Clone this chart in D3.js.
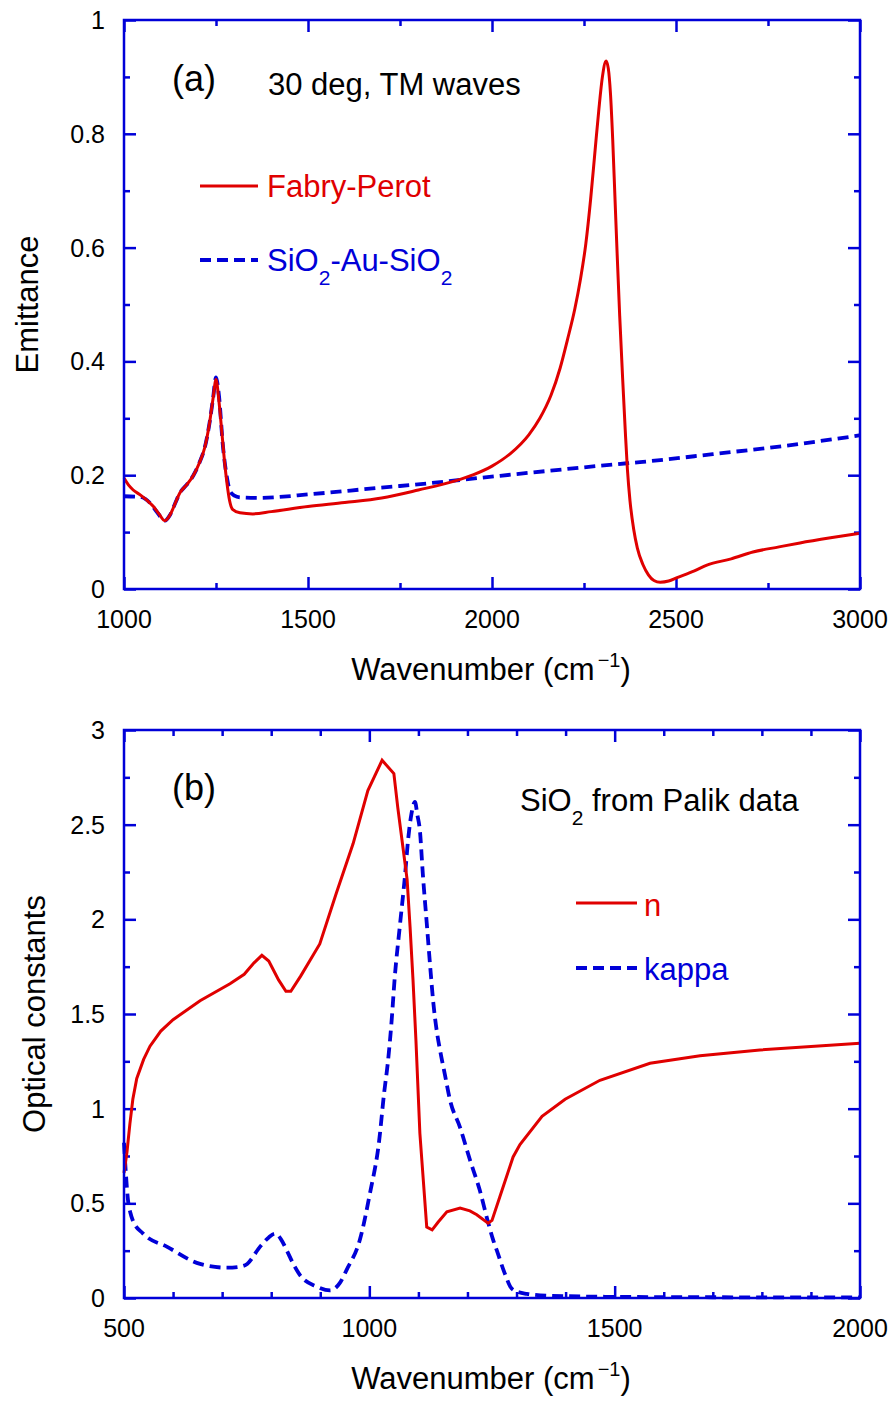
<!DOCTYPE html>
<html>
<head>
<meta charset="utf-8">
<script src="https://cdn.jsdelivr.net/npm/d3@7"></script>
<style>
    body { margin: 0; background: #fff; }
    text { font-family: "Liberation Sans", Arial, sans-serif; }
</style>
</head>
<body>
<div id="chart"></div>
<script>
// panel (a): emittance, 30 deg TM waves
const fabryPerot = [
    [1000, 0.195], [1012, 0.183], [1025, 0.174], [1045, 0.165], [1062, 0.156], [1080, 0.145],
    [1095, 0.132], [1111, 0.12], [1125, 0.13], [1140, 0.152], [1152, 0.169], [1170, 0.183],
    [1188, 0.199], [1205, 0.222], [1220, 0.25], [1232, 0.29], [1242, 0.335], [1250, 0.368],
    [1258, 0.33], [1266, 0.275], [1273, 0.225], [1280, 0.185], [1287, 0.155], [1295, 0.14],
    [1315, 0.134], [1350, 0.132], [1400, 0.136], [1500, 0.145], [1600, 0.152], [1700, 0.16],
    [1800, 0.174], [1900, 0.19], [1950, 0.201], [2000, 0.216], [2050, 0.238], [2100, 0.271],
    [2130, 0.3], [2160, 0.34], [2185, 0.388], [2205, 0.438], [2225, 0.492], [2240, 0.543],
    [2255, 0.607], [2268, 0.685], [2280, 0.77], [2290, 0.84], [2300, 0.9], [2310, 0.928],
    [2316, 0.915], [2322, 0.87], [2328, 0.79], [2334, 0.69], [2340, 0.59], [2347, 0.48],
    [2355, 0.37], [2362, 0.28], [2368, 0.21], [2375, 0.155], [2385, 0.105], [2395, 0.072],
    [2410, 0.043], [2425, 0.025], [2440, 0.015], [2457, 0.012], [2480, 0.014], [2503, 0.02],
    [2550, 0.032], [2584, 0.042], [2650, 0.053], [2709, 0.065], [2780, 0.074], [2837, 0.081],
    [2920, 0.09], [3000, 0.098]
];
const sandwich = [
    [1000, 0.163], [1043, 0.162], [1071, 0.151], [1090, 0.135], [1111, 0.12], [1125, 0.13],
    [1140, 0.152], [1152, 0.169], [1170, 0.183], [1188, 0.199], [1205, 0.222], [1220, 0.25],
    [1232, 0.29], [1242, 0.335], [1250, 0.372], [1258, 0.34], [1269, 0.25], [1280, 0.195],
    [1288, 0.172], [1300, 0.164], [1315, 0.161], [1361, 0.16], [1514, 0.167], [1696, 0.178],
    [1750, 0.181], [2022, 0.199], [2367, 0.221], [2402, 0.223], [2600, 0.237], [2800, 0.252],
    [3000, 0.27]
];
const xTicksA = [1000, 1500, 2000, 2500, 3000];
const xMinorA = [1250, 1750, 2250, 2750];
const yTicksA = [0, 0.2, 0.4, 0.6, 0.8, 1];
const yLabelsA = ['0', '0.2', '0.4', '0.6', '0.8', '1'];
const yMinorA = [0.1, 0.3, 0.5, 0.7, 0.9];

// panel (b): SiO2 optical constants (Palik)
const nSiO2 = [
    [500, 0.66], [506, 0.77], [512, 0.92], [518, 1.05], [526, 1.16], [540, 1.26], [553, 1.33],
    [575, 1.41], [600, 1.47], [655, 1.57], [716, 1.66], [745, 1.71], [765, 1.77], [781, 1.81],
    [795, 1.78], [815, 1.68], [830, 1.62], [840, 1.62], [860, 1.7], [899, 1.87], [933, 2.14],
    [967, 2.4], [997, 2.68], [1026, 2.84], [1050, 2.77], [1058, 2.59], [1069, 2.37], [1077, 2.21],
    [1083, 1.96], [1089, 1.68], [1095, 1.36], [1103, 0.87], [1117, 0.375], [1128, 0.36],
    [1140, 0.4], [1158, 0.455], [1185, 0.475], [1205, 0.46], [1219, 0.44], [1242, 0.395],
    [1250, 0.41], [1266, 0.535], [1293, 0.745], [1307, 0.81], [1352, 0.96], [1399, 1.05],
    [1470, 1.15], [1572, 1.24], [1674, 1.28], [1796, 1.31], [2000, 1.345]
];
const kSiO2 = [
    [500, 0.82], [504, 0.65], [508, 0.52], [513, 0.45], [518, 0.41], [539, 0.34], [588, 0.27],
    [655, 0.18], [710, 0.16], [735, 0.165], [751, 0.18], [777, 0.27], [795, 0.32], [808, 0.34],
    [820, 0.31], [832, 0.25], [845, 0.18], [859, 0.12], [893, 0.06], [920, 0.04], [940, 0.08],
    [954, 0.15], [981, 0.31], [1001, 0.55], [1020, 0.83], [1030, 1.08], [1038, 1.25],
    [1045, 1.45], [1052, 1.7], [1062, 1.96], [1073, 2.24], [1079, 2.42], [1086, 2.56],
    [1093, 2.62], [1098, 2.55], [1103, 2.47], [1109, 2.24], [1117, 1.98], [1125, 1.72],
    [1130, 1.57], [1138, 1.4], [1144, 1.31], [1154, 1.18], [1164, 1.05], [1185, 0.9],
    [1205, 0.73], [1225, 0.57], [1242, 0.4], [1252, 0.31], [1260, 0.25], [1276, 0.13],
    [1290, 0.05], [1305, 0.03], [1321, 0.022], [1368, 0.012], [1500, 0.006], [1700, 0.004],
    [2000, 0.003]
];
const xTicksB = [500, 1000, 1500, 2000];
const xMinorB = [600, 700, 800, 900, 1100, 1200, 1300, 1400, 1600, 1700, 1800, 1900];
const yTicksB = [0, 0.5, 1, 1.5, 2, 2.5, 3];
const yLabelsB = ['0', '0.5', '1', '1.5', '2', '2.5', '3'];
const yMinorB = [0.25, 0.75, 1.25, 1.75, 2.25, 2.75];

const red = '#e00000';
const blue = '#0000d8';
const plotWidth = 736;
const dash = '11,6';

const svg = d3
    .select('#chart')
    .append('svg')
    .attr('width', 896)
    .attr('height', 1403);

function panel(opts) {
    const g = svg.append('g').attr('transform', 'translate(124,' + opts.top + ')');
    const x = d3.scaleLinear().domain(opts.xDomain).range([0, plotWidth]);
    const y = d3.scaleLinear().domain(opts.yDomain).range([opts.height, 0]);

    function ticks(axis, values, size) {
        return axis.tickValues(values).tickSize(-size).tickPadding(0).tickFormat('');
    }
    const axes = [
        [d3.axisBottom(x), opts.xTicks, 12, 'translate(0,' + opts.height + ')'],
        [d3.axisBottom(x), opts.xMinor, 6, 'translate(0,' + opts.height + ')'],
        [d3.axisTop(x), opts.xTicks, 12, null],
        [d3.axisTop(x), opts.xMinor, 6, null],
        [d3.axisLeft(y), opts.yTicks, 12, null],
        [d3.axisLeft(y), opts.yMinor, 6, null],
        [d3.axisRight(y), opts.yTicks, 12, 'translate(' + plotWidth + ',0)'],
        [d3.axisRight(y), opts.yMinor, 6, 'translate(' + plotWidth + ',0)']
    ];
    axes.forEach(function (a) {
        const ag = g.append('g').attr('transform', a[3]).call(ticks(a[0], a[1], a[2]));
        ag.select('.domain').remove();
        ag.selectAll('line').attr('stroke', blue).attr('stroke-width', 2.5);
        ag.selectAll('text').remove();
    });

    // tick labels
    g.selectAll('.xlab')
        .data(opts.xTicks)
        .enter()
        .append('text')
        .attr('x', d => x(d))
        .attr('y', opts.height + 39)
        .attr('text-anchor', 'middle')
        .attr('font-size', 25)
        .text(d => d);
    g.selectAll('.ylab')
        .data(opts.yTicks)
        .enter()
        .append('text')
        .attr('x', -19)
        .attr('y', d => y(d) + 9)
        .attr('text-anchor', 'end')
        .attr('font-size', 25)
        .text((d, i) => opts.yLabels[i]);

    const line = d3.line().x(d => x(d[0])).y(d => y(d[1]));
    opts.series.forEach(function (s) {
        g.append('path')
            .datum(s.data)
            .attr('fill', 'none')
            .attr('stroke', s.color)
            .attr('stroke-width', s.dash ? 3.8 : 3)
            .attr('stroke-dasharray', s.dash ? dash : null)
            .attr('d', line.curve(s.curve)(s.data));
    });

    g.append('rect')
        .attr('width', plotWidth)
        .attr('height', opts.height)
        .attr('fill', 'none')
        .attr('stroke', blue)
        .attr('stroke-width', 2.5);

    // axis titles
    const xt = g.append('text')
        .attr('x', 367)
        .attr('y', opts.height + 91)
        .attr('text-anchor', 'middle')
        .attr('font-size', 31);
    xt.append('tspan').text('Wavenumber (cm');
    xt.append('tspan').attr('font-size', 20).attr('dy', -13).attr('dx', 3).text('\u22121');
    xt.append('tspan').attr('dy', 13).text(')');

    g.append('text')
        .attr('transform', 'translate(' + opts.yTitleX + ',' + opts.height / 2 + ') rotate(-90)')
        .attr('text-anchor', 'middle')
        .attr('font-size', 31)
        .text(opts.yTitle);

    return g;
}

function subText(g, xPos, yPos, parts, color) {
    const t = g.append('text').attr('x', xPos).attr('y', yPos).attr('font-size', 31).attr('fill', color);
    parts.forEach(function (p) {
        if (p.sub) {
            t.append('tspan').attr('font-size', 21).attr('dy', 14).text(p.sub);
        } else {
            t.append('tspan').attr('dy', p.back ? -14 : 0).text(p.text);
        }
    });
    return t;
}

function legendLine(g, x0, x1, yPos, color, dashed) {
    g.append('line')
        .attr('x1', x0).attr('x2', x1)
        .attr('y1', yPos).attr('y2', yPos)
        .attr('stroke', color)
        .attr('stroke-width', dashed ? 3.8 : 3)
        .attr('stroke-dasharray', dashed ? dash : null);
}

const ga = panel({
    top: 20,
    height: 569,
    xDomain: [1000, 3000],
    yDomain: [0, 1],
    xTicks: xTicksA, xMinor: xMinorA,
    yTicks: yTicksA, yLabels: yLabelsA, yMinor: yMinorA,
    yTitle: 'Emittance', yTitleX: -86,
    series: [
        { data: sandwich, color: blue, dash: true, curve: d3.curveMonotoneX },
        { data: fabryPerot, color: red, dash: false, curve: d3.curveMonotoneX }
    ]
});
ga.append('text').attr('x', 48).attr('y', 71).attr('font-size', 36).text('(a)');
ga.append('text').attr('x', 144).attr('y', 75).attr('font-size', 31).text('30 deg, TM waves');
legendLine(ga, 76, 134, 166, red, false);
ga.append('text').attr('x', 143).attr('y', 177).attr('font-size', 31).attr('fill', red).text('Fabry-Perot');
legendLine(ga, 76, 134, 240, blue, true);
subText(ga, 143, 251, [
    { text: 'SiO' }, { sub: '2' }, { text: '-Au-SiO', back: true }, { sub: '2' }
], blue);

const gb = panel({
    top: 730,
    height: 568,
    xDomain: [500, 2000],
    yDomain: [0, 3],
    xTicks: xTicksB, xMinor: xMinorB,
    yTicks: yTicksB, yLabels: yLabelsB, yMinor: yMinorB,
    yTitle: 'Optical constants', yTitleX: -79,
    series: [
        { data: kSiO2, color: blue, dash: true, curve: d3.curveMonotoneX },
        { data: nSiO2, color: red, dash: false, curve: d3.curveLinear }
    ]
});
gb.append('text').attr('x', 48).attr('y', 70).attr('font-size', 36).text('(b)');
subText(gb, 396, 81, [
    { text: 'SiO' }, { sub: '2' }, { text: ' from Palik data', back: true }
], '#000');
legendLine(gb, 452, 513, 173, red, false);
gb.append('text').attr('x', 520).attr('y', 186).attr('font-size', 31).attr('fill', red).text('n');
legendLine(gb, 452, 513, 238, blue, true);
gb.append('text').attr('x', 520).attr('y', 250).attr('font-size', 31).attr('fill', blue).text('kappa');
</script>
</body>
</html>
